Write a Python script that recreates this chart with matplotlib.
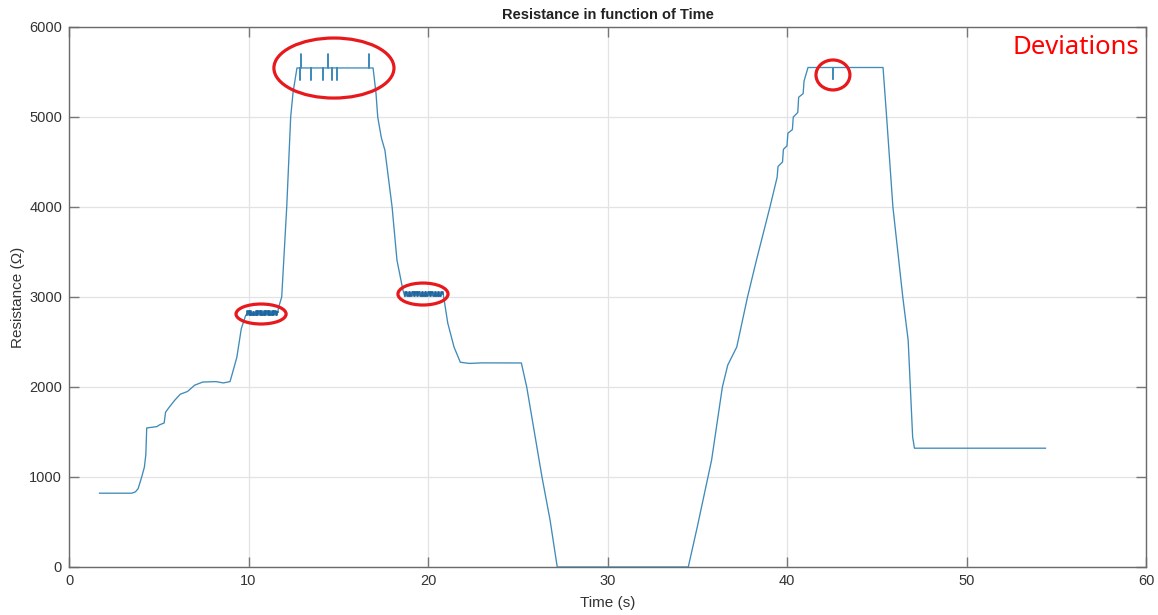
import matplotlib
matplotlib.use("Agg")
import matplotlib.pyplot as plt
from matplotlib.patches import Ellipse
import numpy as np

# ---------------- data ----------------
# segment A: start -> first noisy plateau
seg_a_t = [1.7, 3.5, 3.7, 3.85, 4.05, 4.2, 4.28, 4.33, 4.9, 5.05, 5.3, 5.38, 5.6, 5.9, 6.2,
           6.6, 7.0, 7.45, 8.2, 8.6, 8.97, 9.1, 9.35, 9.6, 9.85]
seg_a_r = [820, 820, 835, 870, 1000, 1110, 1250, 1545, 1560, 1580, 1600, 1720, 1780, 1855, 1920,
           1950, 2020, 2055, 2060, 2045, 2060, 2150, 2330, 2650, 2800]

# noisy plateau ~2820 Ω
band1_t = [9.90, 9.98, 10.05, 10.13, 10.20, 10.28, 10.35, 10.43, 10.50, 10.58, 10.65, 10.73,
           10.80, 10.88, 10.95, 11.03, 11.10, 11.18, 11.25, 11.33, 11.40, 11.48, 11.55, 11.62]
band1_r = [2800, 2840, 2798, 2842, 2796, 2838, 2800, 2844, 2797, 2840, 2799, 2843,
           2796, 2841, 2800, 2839, 2797, 2844, 2798, 2840, 2800, 2842, 2797, 2830]

# segment B: rise, top plateau with deviation spikes, fall
seg_b_t = [11.7, 11.85, 12.13, 12.35, 12.48, 12.7, 12.87, 12.87, 12.87, 12.92, 12.92, 12.92,
           13.48, 13.48, 13.48, 14.15, 14.15, 14.15, 14.43, 14.43, 14.43, 14.65, 14.65, 14.65,
           14.93, 14.93, 14.93, 16.71, 16.71, 16.71, 16.94, 17.1, 17.2, 17.4, 17.6, 18.0,
           18.27, 18.6]
seg_b_r = [2900, 3000, 4000, 5000, 5270, 5545, 5545, 5410, 5545, 5545, 5700, 5545,
           5545, 5410, 5545, 5545, 5410, 5545, 5545, 5700, 5545, 5545, 5410, 5545,
           5545, 5410, 5545, 5545, 5700, 5545, 5545, 5270, 5000, 4770, 4630, 4000,
           3410, 3080]

# noisy plateau ~3030 Ω
band2_t = [18.70, 18.79, 18.88, 18.97, 19.06, 19.15, 19.24, 19.33, 19.42, 19.51, 19.60, 19.69,
           19.78, 19.87, 19.96, 20.05, 20.14, 20.23, 20.32, 20.41, 20.50, 20.59, 20.68, 20.77, 20.85]
band2_r = [3010, 3058, 3008, 3056, 3012, 3060, 3009, 3057, 3011, 3059, 3008, 3056,
           3010, 3058, 3012, 3057, 3009, 3060, 3010, 3056, 3011, 3058, 3008, 3057, 3030]

# segment C: down to zero, second rise, plateau, fall, final level
seg_c_t = [20.9, 21.1, 21.45, 21.8, 22.3, 23.0, 25.2, 25.5, 26.35, 26.8, 27.2, 34.5, 35.0,
           35.8, 36.4, 36.7, 37.2, 37.8, 38.3, 39.05, 39.45, 39.5, 39.75, 39.8, 40.0, 40.05,
           40.3, 40.35, 40.6, 40.65, 40.9, 40.95, 41.17, 42.56, 42.56, 42.56, 45.35, 45.55,
           45.9, 46.45, 46.75, 47.0, 47.1, 54.4]
seg_c_r = [2967, 2711, 2444, 2275, 2262, 2268, 2267, 2000, 1000, 522, 0, 0, 444,
           1189, 2000, 2244, 2444, 3000, 3411, 4000, 4330, 4450, 4500, 4640, 4680, 4820,
           4860, 5000, 5050, 5220, 5260, 5400, 5550, 5550, 5420, 5550, 5550, 5000,
           4000, 3000, 2520, 1444, 1320, 1320]

x_ticks = [0, 10, 20, 30, 40, 50, 60]
y_ticks = [0, 1000, 2000, 3000, 4000, 5000, 6000]

# highlighted deviations: (center t, center R, width t, height R)
ellipse_cx = [14.76, 10.70, 19.72, 42.56]
ellipse_cy = [5544, 2811, 3033, 5467]
ellipse_w = [6.69, 2.79, 2.79, 1.89]
ellipse_h = [667, 222, 244, 333]

# ---------------- plot ----------------
plt.rcParams['font.family'] = ['Liberation Sans', 'DejaVu Sans']

W, H = 1158, 615
fig = plt.figure(figsize=(W / 100, H / 100), dpi=100)
ax = fig.add_axes([69 / W, 48 / H, (1146 - 69) / W, (567 - 27) / H])

t = np.concatenate([seg_a_t, band1_t, seg_b_t, band2_t, seg_c_t])
r = np.concatenate([seg_a_r, band1_r, seg_b_r, band2_r, seg_c_r])
ax.plot(t, r, color='#3f8bb9', lw=0.95, zorder=3)
# dense noisy plateaus drawn as stepped signal (appear as thick dark bands)
ax.plot(band1_t, band1_r, color='#1f66a0', lw=1.2, drawstyle='steps-mid', zorder=3)
ax.plot(band2_t, band2_r, color='#1f66a0', lw=1.2, drawstyle='steps-mid', zorder=3)

for cx, cy, w, h in zip(ellipse_cx, ellipse_cy, ellipse_w, ellipse_h):
    ax.add_patch(Ellipse((cx, cy), w, h, fill=False, edgecolor='#e8191c', lw=2.3, zorder=4))

ax.set_xlim(0, 60)
ax.set_ylim(0, 6000)
ax.set_xticks(x_ticks)
ax.set_yticks(y_ticks)
ax.grid(True, color='#e3e3e3', lw=0.9)
ax.set_axisbelow(True)
ax.tick_params(direction='in', length=7, width=1, top=True, right=True,
               color='#777777', labelcolor='#333333', labelsize=10.5, pad=5)
for s in ax.spines.values():
    s.set_color('#6a6a6a')
    s.set_linewidth(1.0)

ax.set_title('Resistance in function of Time', fontweight='bold', fontsize=10.5,
             color='#222222', pad=6)
ax.set_xlabel('Time (s)', fontsize=11, color='#333333', labelpad=6)
ax.set_ylabel('Resistance (\u03a9)', fontsize=11, color='#333333', labelpad=3)

fig.text(1139 / W, 1 - 47 / H, 'Deviations', color='#ff0000', fontsize=18.5,
         family=['Noto Sans', 'DejaVu Sans'], ha='right', va='center')

fig.savefig('out.png', dpi=100)
